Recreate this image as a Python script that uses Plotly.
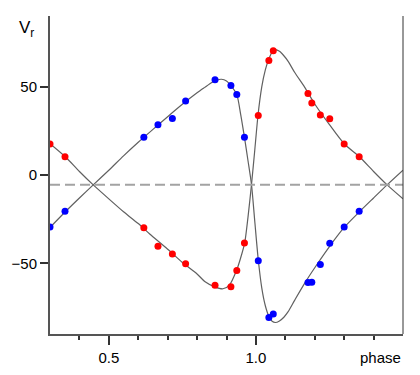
import plotly.graph_objects as go

# ---- data ----
obs_phase = [0.619, 0.667, 0.716, 0.761, 0.861, 0.915, 0.935, 0.961, 1.008,
             1.044, 1.059, 1.177, 1.190, 1.219, 1.251, 1.300, 1.351]
v_blue = [21.3, 28.4, 32.0, 41.9, 53.9, 50.6, 45.5, 21.4, -48.6,
          -80.6, -78.7, -60.9, -60.7, -50.7, -38.7, -29.5, -20.5]
v_red = [-29.9, -40.4, -44.7, -50.3, -62.4, -63.3, -54.1, -38.5, 33.7,
         64.8, 70.3, 46.2, 40.8, 34.0, 31.8, 17.5, 10.4]

curve_a_phase = [0.30, 0.352, 0.40, 0.447, 0.50, 0.55, 0.60, 0.65, 0.70, 0.75,
                 0.80, 0.826, 0.85, 0.868, 0.883, 0.90, 0.915, 0.935, 0.948,
                 0.961, 0.973, 0.985, 0.996, 1.008, 1.020, 1.032, 1.044, 1.055,
                 1.066, 1.080, 1.095, 1.109, 1.132, 1.166, 1.20, 1.25, 1.30,
                 1.352, 1.40, 1.446, 1.50]
curve_a_v = [-29.7, -20.8, -13.0, -5.6, 2.7, 10.8, 18.5, 25.8, 33.0, 40.0,
             46.5, 49.6, 52.4, 53.8, 54.2, 53.2, 50.6, 45.5, 34.5,
             21.4, 8.2, -5.4, -26.0, -48.0, -64.0, -74.0, -80.0, -82.8,
             -83.5, -82.6, -80.5, -77.5, -70.8, -61.2, -52.5, -40.5, -29.7,
             -20.8, -13.0, -5.6, 2.7]

curve_b_phase = [0.30, 0.352, 0.40, 0.447, 0.50, 0.55, 0.60, 0.639, 0.70, 0.75,
                 0.80, 0.826, 0.86, 0.888, 0.91, 0.934, 0.948, 0.962, 0.973,
                 0.985, 0.996, 1.007, 1.020, 1.032, 1.043, 1.055, 1.066, 1.080,
                 1.095, 1.109, 1.132, 1.166, 1.20, 1.25, 1.30, 1.352, 1.40,
                 1.446, 1.50]
curve_b_v = [17.7, 10.3, 2.0, -5.6, -13.5, -20.8, -27.5, -33.4, -42.0, -49.5,
             -56.0, -60.3, -63.3, -64.4, -62.3, -54.1, -47.0, -38.3, -24.0,
             -5.4, 13.9, 33.7, 50.0, 59.5, 65.2, 69.5, 70.9, 70.0,
             67.5, 64.5, 58.0, 49.6, 40.2, 28.5, 17.7, 10.3, 2.0,
             -5.6, -13.5]

gamma = -5.5
x_range = [0.3, 1.5]
y_range = [-90, 90]
major_ticks = [0.5, 1.0]
major_labels = ["0.5", "1.0"]
minor_ticks = [0.4, 0.6, 0.7, 0.8, 0.9, 1.1, 1.2, 1.3, 1.4]
y_ticks = [-50, 0, 50]

# wrapped copies of observations (phase - 1) that fall in the plotted range
def wrap(ph, v):
    xs, ys = list(ph), list(v)
    for p, val in zip(ph, v):
        if x_range[0] - 0.01 <= p - 1 <= x_range[1]:
            xs.append(p - 1)
            ys.append(val)
    return xs, ys

bx, by = wrap(obs_phase, v_blue)
rx, ry = wrap(obs_phase, v_red)

fig = go.Figure()
fig.add_hline(y=gamma, line=dict(color="#a3a3a3", width=2, dash="10px,5px"))

for cx, cy in [(curve_a_phase, curve_a_v), (curve_b_phase, curve_b_v)]:
    fig.add_trace(go.Scatter(x=cx, y=cy, mode="lines",
                             line=dict(color="#606060", width=1.2, shape="spline", smoothing=0.7),
                             hoverinfo="skip", showlegend=False))

fig.add_trace(go.Scatter(x=bx, y=by, mode="markers",
                         marker=dict(color="#0000ff", size=7, line=dict(width=0)),
                         showlegend=False))
fig.add_trace(go.Scatter(x=rx, y=ry, mode="markers",
                         marker=dict(color="#ff0000", size=7, line=dict(width=0)),
                         showlegend=False))

font = dict(family="Liberation Sans, Arial, sans-serif", size=15, color="black")

# page body has an 8px default margin; figure sized to fit the 420x375 window
fig.update_layout(
    width=404, height=359,
    margin=dict(l=42, r=9, t=7.5, b=33, autoexpand=False),
    paper_bgcolor="white", plot_bgcolor="white",
    font=font,
    xaxis=dict(range=x_range, showgrid=False, zeroline=False, automargin=False,
               showline=True, linecolor="#555555", linewidth=2,
               tickmode="array", tickvals=major_ticks, ticktext=major_labels,
               ticks="outside", ticklen=9, tickwidth=1.5, tickcolor="#333333",
               minor=dict(tickmode="array", tickvals=minor_ticks, ticks="outside",
                          ticklen=4, tickwidth=1.5, tickcolor="#333333", showgrid=False),
               tickfont=font),
    yaxis=dict(range=y_range, showgrid=False, zeroline=False, automargin=False,
               showline=True, linecolor="#555555", linewidth=2,
               tickmode="array", tickvals=y_ticks,
               ticks="outside", ticklen=8, tickwidth=2, tickcolor="#333333",
               tickfont=font),
    shapes=[
        dict(type="line", xref="paper", yref="paper", x0=0, x1=1, y0=1, y1=1,
             line=dict(color="#333333", width=1)),
        dict(type="line", xref="paper", yref="paper", x0=1, x1=1, y0=0, y1=1,
             line=dict(color="#333333", width=1)),
    ],
    annotations=[
        dict(text="phase", x=1.5, xref="x", y=0, yref="paper", xanchor="right",
             yanchor="top", yshift=-13, showarrow=False, font=font),
        dict(text="V<sub>r</sub>", x=0, xref="paper", y=1, yref="paper",
             xanchor="right", yanchor="middle", xshift=-14, yshift=-13,
             showarrow=False, font=dict(family="Liberation Sans, Arial, sans-serif", size=17, color="black")),
    ],
)

fig.write_html("out.html")
